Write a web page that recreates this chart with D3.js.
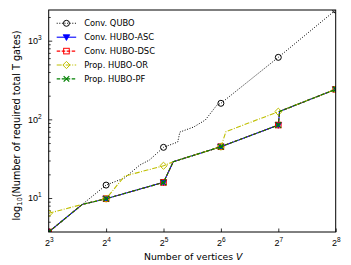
<!DOCTYPE html>
<html>
<head>
<meta charset="utf-8">
<script src="https://cdn.jsdelivr.net/npm/d3@7"></script>
<style>
  body { margin: 0; background: #fff; }
  svg { font-family: "DejaVu Sans", sans-serif; }
</style>
</head>
<body>
<script>
// data
var quboV = [8, 12, 16, 20, 24, 27, 32, 38, 39, 46, 53, 61, 64, 128, 256];
var quboT = [3.7, 8.3, 14.6, 18, 26.2, 30.4, 44.1, 51.5, 69, 79.8, 98, 152, 160, 614, 2455];

var ascV = [8, 12, 16, 32, 36, 64, 128, 130, 256];
var ascT = [3.7, 8.3, 9.8, 15.8, 28.9, 44.9, 84.7, 126, 241];

var dscV = [8, 12, 16, 32, 36, 64, 128, 130, 256];
var dscT = [3.7, 8.3, 9.8, 15.8, 28.9, 44.9, 84.7, 126, 241];

var orV = [8, 12, 16, 20, 32, 36, 64, 68, 128, 256];
var orT = [6.4, 8.3, 9.8, 19, 25.7, 28.9, 44.9, 69.7, 125, 241];

var pfV = [8, 12, 16, 32, 36, 64, 128, 130, 256];
var pfT = [3.7, 8.3, 9.8, 15.8, 28.9, 44.9, 84.7, 126, 241];

var xTicks = [3, 4, 5, 6, 7, 8];       // exponents of 2
var yTicks = [1, 2, 3];                // exponents of 10

var seriesNames = ["Conv. QUBO", "Conv. HUBO-ASC", "Conv. HUBO-DSC", "Prop. HUBO-OR", "Prop. HUBO-PF"];

var svgWidth = 351;
var svgHeight = 265;
var margin = { top: 10, right: 15.3, bottom: 33, left: 48.7 };
var width = svgWidth - margin.left - margin.right;
var height = svgHeight - margin.top - margin.bottom;

var svg = d3.select("body").append("svg")
  .attr("width", svgWidth)
  .attr("height", svgHeight);

svg.append("defs").append("clipPath").attr("id", "plotclip")
  .append("rect").attr("width", width).attr("height", height);

var chartGroup = svg.append("g")
  .attr("transform", `translate(${margin.left}, ${margin.top})`);

var x = d3.scaleLog().base(2).domain([8, 256]).range([0, width]);
var y = d3.scaleLog().domain([3.7, 2455]).range([height, 0]);

// minor y ticks
var minor = [];
[1, 10, 100, 1000].forEach(function(p) {
  for (var k = 2; k <= 9; k++) {
    var v = k * p;
    if (v >= 3.7 && v <= 2455) minor.push(v);
  }
});

chartGroup.append("g")
  .call(d3.axisLeft(y).tickValues(minor).tickSize(-2).tickFormat(""))
  .call(g => g.select(".domain").remove());

var yAxis = chartGroup.append("g")
  .call(d3.axisLeft(y).tickValues(yTicks.map(e => Math.pow(10, e))).tickSize(-3.5).tickPadding(7).tickFormat(""))
  .call(g => g.select(".domain").remove());

yAxis.selectAll(".tick text").each(function(d, i) {
  var t = d3.select(this).attr("font-size", 9).attr("fill", "#000");
  t.append("tspan").text("10");
  t.append("tspan").attr("dy", -4).attr("font-size", 6.5).text(yTicks[i]);
});

var xAxis = chartGroup.append("g")
  .attr("transform", `translate(0, ${height})`)
  .call(d3.axisBottom(x).tickValues(xTicks.map(e => Math.pow(2, e))).tickSize(-3.5).tickPadding(8).tickFormat(""))
  .call(g => g.select(".domain").remove());

xAxis.selectAll(".tick text").each(function(d, i) {
  var t = d3.select(this).attr("font-size", 9).attr("fill", "#000");
  t.append("tspan").text("2");
  t.append("tspan").attr("dy", -4).attr("font-size", 6.5).text(xTicks[i]);
});

svg.selectAll(".tick line").attr("stroke", "#000").attr("stroke-width", 0.8);

// series
var series = [
  { V: quboV, T: quboT, color: "#000000", dash: "1,1.6", marker: "circle" },
  { V: ascV, T: ascT, color: "#0000ff", dash: null, marker: "tri" },
  { V: dscV, T: dscT, color: "#ff0000", dash: "3.5,1.5", marker: "square" },
  { V: orV, T: orT, color: "#bfbf00", dash: "5,1.5,1,1.5", marker: "diamond" },
  { V: pfV, T: pfT, color: "#008000", dash: "3.5,1.5", marker: "x" }
];

var line = d3.line().x(d => x(d[0])).y(d => y(d[1]));

var plot = chartGroup.append("g").attr("clip-path", "url(#plotclip)");

function drawMarker(g, type, color, cx, cy) {
  if (type === "circle") {
    g.append("circle").attr("cx", cx).attr("cy", cy).attr("r", 3)
      .attr("fill", "none").attr("stroke", color).attr("stroke-width", 1);
  } else if (type === "tri") {
    g.append("path").attr("d", `M${cx - 3.3},${cy - 2.5}L${cx + 3.3},${cy - 2.5}L${cx},${cy + 3.3}Z`)
      .attr("fill", color).attr("stroke", color).attr("stroke-width", 0.8);
  } else if (type === "square") {
    g.append("rect").attr("x", cx - 2.8).attr("y", cy - 2.8).attr("width", 5.6).attr("height", 5.6)
      .attr("fill", "none").attr("stroke", color).attr("stroke-width", 1);
  } else if (type === "diamond") {
    g.append("path").attr("d", `M${cx},${cy - 3.6}L${cx + 3.6},${cy}L${cx},${cy + 3.6}L${cx - 3.6},${cy}Z`)
      .attr("fill", "none").attr("stroke", color).attr("stroke-width", 1);
  } else if (type === "x") {
    g.append("path").attr("d", `M${cx - 2.8},${cy - 2.8}L${cx + 2.8},${cy + 2.8}M${cx - 2.8},${cy + 2.8}L${cx + 2.8},${cy - 2.8}`)
      .attr("fill", "none").attr("stroke", color).attr("stroke-width", 1.2);
  }
}

series.forEach(function(s) {
  var pts = s.V.map((v, i) => [v, s.T[i]]);
  var p = plot.append("path")
    .datum(pts)
    .attr("d", line)
    .attr("fill", "none")
    .attr("stroke", s.color)
    .attr("stroke-width", s.marker === "circle" ? 1 : 1.1);
  if (s.dash) p.attr("stroke-dasharray", s.dash);
  var mg = plot.append("g");
  pts.filter(d => Number.isInteger(Math.log2(d[0]))).forEach(function(d) {
    drawMarker(mg, s.marker, s.color, x(d[0]), y(d[1]));
  });
});

// frame
chartGroup.append("rect")
  .attr("width", width).attr("height", height)
  .attr("fill", "none").attr("stroke", "#000").attr("stroke-width", 1);

// legend
var legend = chartGroup.append("g").attr("transform", "translate(8, 13.3)");
series.forEach(function(s, i) {
  var g = legend.append("g").attr("transform", `translate(0, ${i * 13.9})`);
  var l = g.append("line").attr("x1", 0).attr("x2", 19.5).attr("y1", 0).attr("y2", 0)
    .attr("stroke", s.color).attr("stroke-width", 1.1);
  if (s.dash) l.attr("stroke-dasharray", s.dash);
  drawMarker(g, s.marker, s.color, 9.75, 0);
  g.append("text").attr("x", 27.5).attr("y", 0).attr("dy", "0.35em")
    .attr("font-size", 8.3).text(seriesNames[i]);
});

// axis labels
var xl = svg.append("text")
  .attr("x", margin.left + width / 2 + 1)
  .attr("y", 260)
  .attr("text-anchor", "middle")
  .attr("font-size", 9.3);
xl.append("tspan").text("Number of vertices ");
xl.append("tspan").attr("font-style", "italic").text("V");

var yl = svg.append("text")
  .attr("transform", `translate(19.5, 125.5) rotate(-90)`)
  .attr("text-anchor", "middle")
  .attr("font-size", 9.7);
yl.append("tspan").text("log");
yl.append("tspan").attr("dy", 2.7).attr("font-size", 6.8).text("10");
yl.append("tspan").attr("dy", -2.7).text("(Number of required total T gates)");
</script>
</body>
</html>
